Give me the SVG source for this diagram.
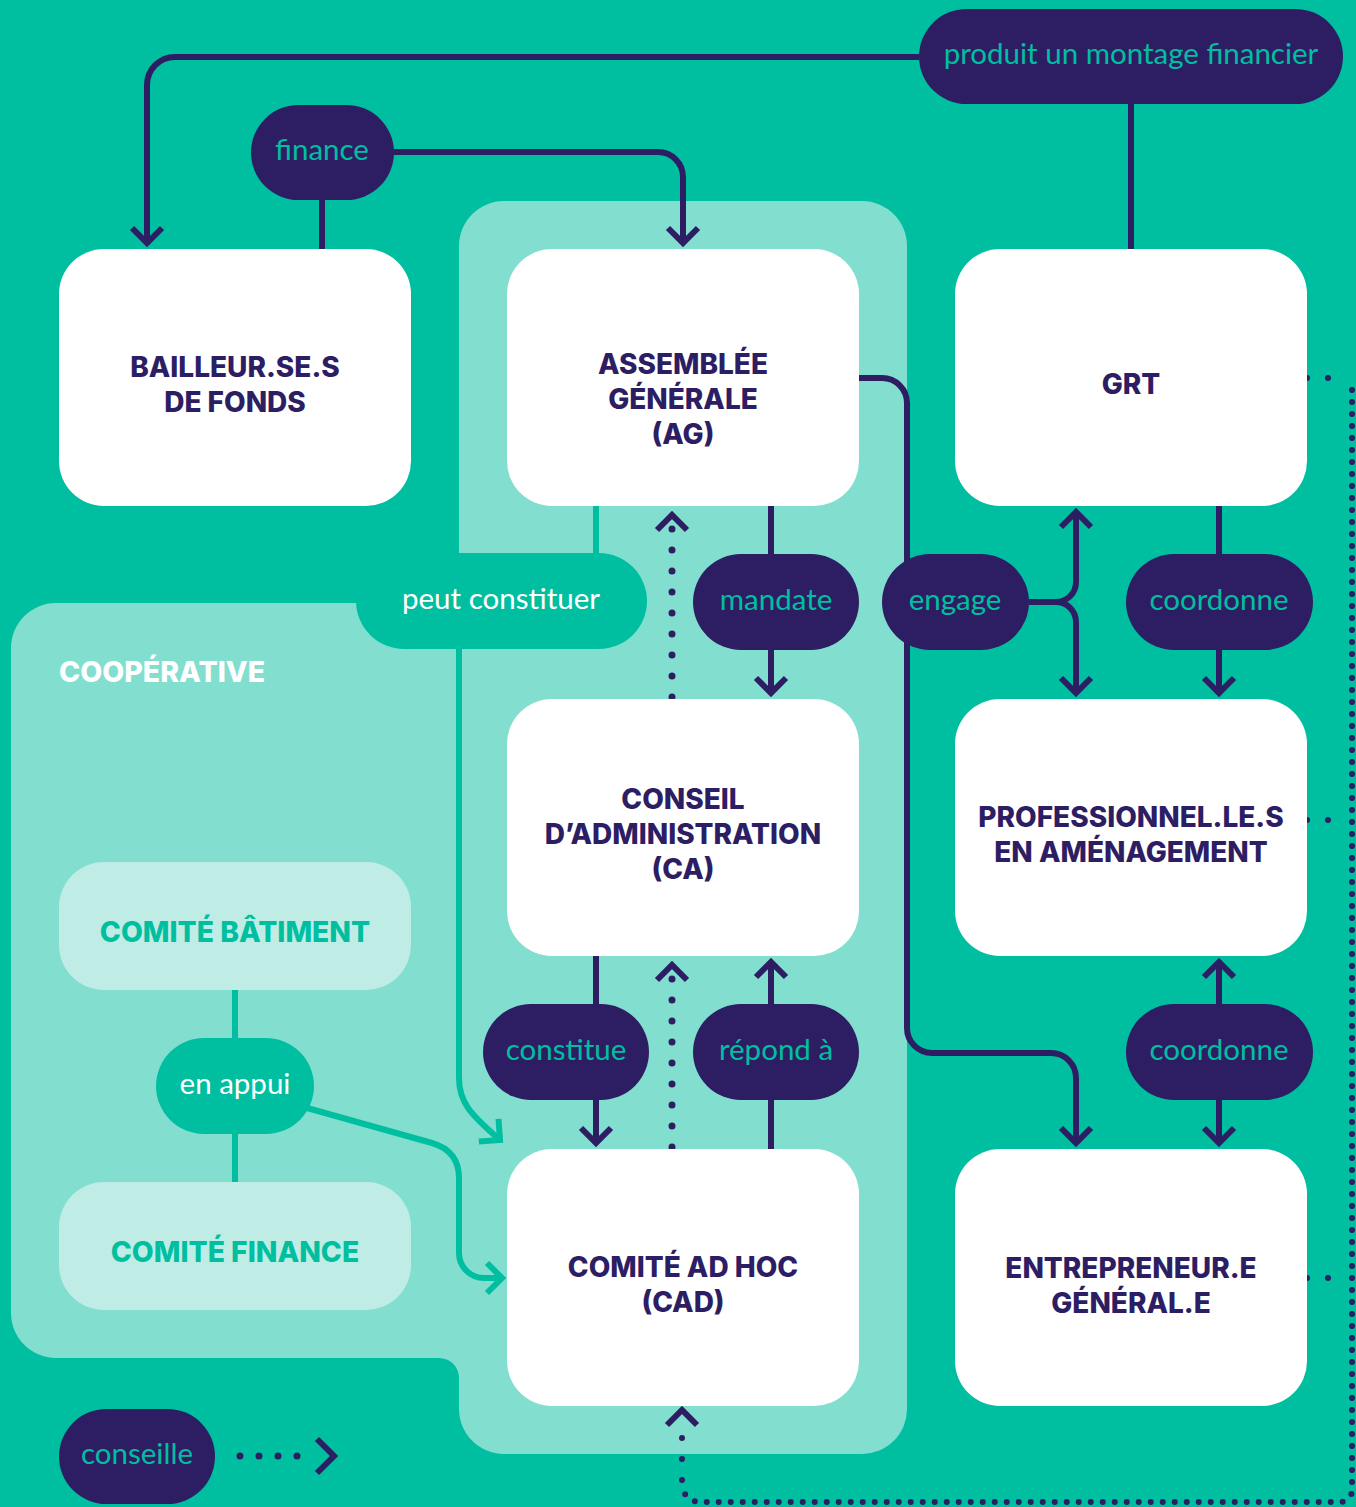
<svg xmlns="http://www.w3.org/2000/svg" width="1356" height="1507" viewBox="0 0 1356 1507">
<style>
.node{fill:#fff}
.ntx{font-family:Inter,'Noto Sans',sans-serif;font-weight:800;font-size:28px;fill:#2D1E64;text-anchor:middle}
.pill{fill:#2D1E64}
.ptx{font-family:Lato,'Noto Sans',sans-serif;font-size:29.5px;fill:#00BFA0;text-anchor:middle}
.tpill{fill:#00BFA0}
.ttx{font-family:Lato,'Noto Sans',sans-serif;font-size:29.5px;fill:#fff;text-anchor:middle}
.com{fill:#BFEDE6}
.ctx{font-family:Inter,'Noto Sans',sans-serif;font-weight:800;font-size:28.3px;fill:#00BFA0;text-anchor:middle}
.ln{fill:none;stroke:#2D1E64;stroke-width:6}
.tl{fill:none;stroke:#00BFA0;stroke-width:6}
.dot{fill:none;stroke:#2D1E64;stroke-width:7;stroke-linecap:round;stroke-dasharray:0 21}
.dot2{fill:none;stroke:#2D1E64;stroke-width:6;stroke-linecap:round;stroke-dasharray:0 12}
</style>
<defs>
<marker id="a" viewBox="-20 -20 40 40" markerWidth="40" markerHeight="40" refX="0" refY="0" orient="auto" markerUnits="userSpaceOnUse" overflow="visible"><path d="M-15,-15 L0,0 L-15,15" fill="none" stroke="#2D1E64" stroke-width="6"/></marker>
<marker id="t" viewBox="-20 -20 40 40" markerWidth="40" markerHeight="40" refX="0" refY="0" orient="auto" markerUnits="userSpaceOnUse" overflow="visible"><path d="M-15,-15 L0,0 L-15,15" fill="none" stroke="#00BFA0" stroke-width="6"/></marker>
</defs>
<rect width="1356" height="1507" fill="#00BFA0"/>
<g id="regions">
<path d="M504,201 H862 A45,45 0 0 1 907,246 V1409 A45,45 0 0 1 862,1454 H504 A45,45 0 0 1 459,1409 V1378 A20,20 0 0 0 439,1358 H56 A45,45 0 0 1 11,1313 V648 A45,45 0 0 1 56,603 H459 V246 A45,45 0 0 1 504,201 Z" fill="#82DFD0"/>
<text x="59" y="682" font-family="Inter,'Noto Sans',sans-serif" font-weight="800" font-size="28.5" fill="#fff">COOPÉRATIVE</text>
</g>
<g id="connectors">
<path class="ln" d="M919,57 H175 A28,28 0 0 0 147,85 V243" marker-end="url(#a)"/>
<path class="ln" d="M1131,104 V249"/>
<path class="ln" d="M322,200 V249"/>
<path class="ln" d="M394,152 H658 A25,25 0 0 1 683,177 V243" marker-end="url(#a)"/>
<path class="ln" d="M859,378 H882 A25,25 0 0 1 907,403 V1028 A25,25 0 0 0 932,1053 H1051 A25,25 0 0 1 1076,1078 V1143" marker-end="url(#a)"/>
<path class="ln" d="M1029,602 H1056 A20,20 0 0 0 1076,582 V512" marker-end="url(#a)"/>
<path class="ln" d="M1056,602 A20,20 0 0 1 1076,622 V693" marker-end="url(#a)"/>
<path class="ln" d="M1219,506 V554"/>
<path class="ln" d="M1219,650 V693" marker-end="url(#a)"/>
<path class="ln" d="M1219,1004 V962" marker-end="url(#a)"/>
<path class="ln" d="M1219,1100 V1143" marker-end="url(#a)"/>
<path class="ln" d="M771,506 V554"/>
<path class="ln" d="M771,650 V693" marker-end="url(#a)"/>
<path class="ln" d="M771,1149 V1100"/>
<path class="ln" d="M771,1004 V962" marker-end="url(#a)"/>
<path class="ln" d="M596,956 V1004"/>
<path class="ln" d="M596,1100 V1143" marker-end="url(#a)"/>
<path class="tl" d="M596,506 V553"/>
<path class="tl" d="M459,649 V1078 C459,1102 470,1114 500,1140" marker-end="url(#t)"/>
<path class="tl" d="M235,990 V1038"/>
<path class="tl" d="M235,1134 V1182"/>
<path class="tl" d="M300,1106 L432,1143 Q459,1151 459,1178 V1253 A25,25 0 0 0 484,1278 H502" marker-end="url(#t)"/>
<path class="dot" d="M672,697 V516"/>
<path class="ln" d="M657,530 L672,515 L687,530"/>
<path class="dot" d="M672,1147 V966"/>
<path class="ln" d="M657,980 L672,965 L687,980"/>
<path class="dot" style="stroke-width:6" d="M1307,378 H1349"/>
<path class="dot2" d="M1352,390 V1490 A12,12 0 0 1 1340,1502 H700 A18,18 0 0 1 682,1484"/>
<path class="dot" style="stroke-width:6" d="M682,1480 V1432"/>
<path class="ln" d="M667,1425 L682,1410 L697,1425"/>
<path class="dot" style="stroke-width:6" d="M1307,820 H1349"/>
<path class="dot" style="stroke-width:6" d="M1307,1278 H1349"/>
<path class="dot" style="stroke-dasharray:0 19" d="M240,1456 H316"/>
<path class="ln" d="M317,1439 L334,1456 L317,1473"/>
</g>
<g id="n-bailleur"><rect class="node" x="59" y="249" width="352" height="257" rx="45"/><text class="ntx" x="235" y="377">BAILLEUR.SE.S</text><text class="ntx" x="235" y="412">DE FONDS</text></g>
<g id="n-ag"><rect class="node" x="507" y="249" width="352" height="257" rx="45"/><text class="ntx" x="683" y="374">ASSEMBLÉE</text><text class="ntx" x="683" y="409">GÉNÉRALE</text><text class="ntx" x="683" y="444">(AG)</text></g>
<g id="n-grt"><rect class="node" x="955" y="249" width="352" height="257" rx="45"/><text class="ntx" x="1131" y="394">GRT</text></g>
<g id="n-ca"><rect class="node" x="507" y="699" width="352" height="257" rx="45"/><text class="ntx" x="683" y="809">CONSEIL</text><text class="ntx" x="683" y="844">D’ADMINISTRATION</text><text class="ntx" x="683" y="879">(CA)</text></g>
<g id="n-pro"><rect class="node" x="955" y="699" width="352" height="257" rx="45"/><text class="ntx" x="1131" y="827">PROFESSIONNEL.LE.S</text><text class="ntx" x="1131" y="862">EN AMÉNAGEMENT</text></g>
<g id="n-cad"><rect class="node" x="507" y="1149" width="352" height="257" rx="45"/><text class="ntx" x="683" y="1277">COMITÉ AD HOC</text><text class="ntx" x="683" y="1312">(CAD)</text></g>
<g id="n-ent"><rect class="node" x="955" y="1149" width="352" height="257" rx="45"/><text class="ntx" x="1131" y="1278">ENTREPRENEUR.E</text><text class="ntx" x="1131" y="1313">GÉNÉRAL.E</text></g>
<g id="n-batiment"><rect class="com" x="59" y="862" width="352" height="128" rx="45"/><text class="ctx" x="235" y="942">COMITÉ BÂTIMENT</text></g>
<g id="n-finance-com"><rect class="com" x="59" y="1182" width="352" height="128" rx="45"/><text class="ctx" x="235" y="1262">COMITÉ FINANCE</text></g>
<g id="p-produit"><rect class="pill" x="919" y="9" width="424" height="95" rx="47.5"/><text class="ptx" x="1131" y="64">produit un montage financier</text></g>
<g id="p-finance"><rect class="pill" x="251" y="105" width="143" height="95" rx="47.5"/><text class="ptx" x="322" y="160">finance</text></g>
<g id="p-peut"><rect class="tpill" x="356" y="553" width="291" height="96" rx="48"/><text class="ttx" x="501" y="609">peut constituer</text></g>
<g id="p-mandate"><rect class="pill" x="693" y="554" width="166" height="96" rx="48"/><text class="ptx" x="776" y="610">mandate</text></g>
<g id="p-engage"><rect class="pill" x="882" y="554" width="147" height="96" rx="48"/><text class="ptx" x="955" y="610">engage</text></g>
<g id="p-coord1"><rect class="pill" x="1126" y="554" width="187" height="96" rx="48"/><text class="ptx" x="1219" y="610">coordonne</text></g>
<g id="p-constitue"><rect class="pill" x="483" y="1004" width="166" height="96" rx="48"/><text class="ptx" x="566" y="1060">constitue</text></g>
<g id="p-repond"><rect class="pill" x="693" y="1004" width="166" height="96" rx="48"/><text class="ptx" x="776" y="1060">répond à</text></g>
<g id="p-coord2"><rect class="pill" x="1126" y="1004" width="187" height="96" rx="48"/><text class="ptx" x="1219" y="1060">coordonne</text></g>
<g id="p-appui"><rect class="tpill" x="156" y="1038" width="158" height="96" rx="48"/><text class="ttx" x="235" y="1094">en appui</text></g>
<g id="p-conseille"><rect class="pill" x="59" y="1409" width="156" height="95" rx="47.5"/><text class="ptx" x="137" y="1464">conseille</text></g>
</svg>
